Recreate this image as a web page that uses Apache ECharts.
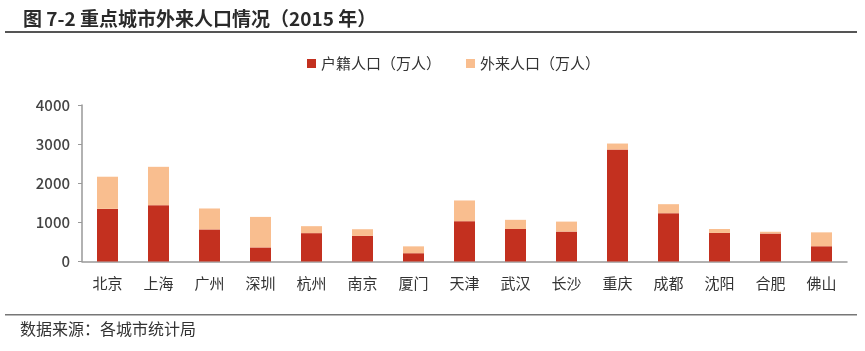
<!DOCTYPE html>
<html><head><meta charset="utf-8">
<script src="https://cdn.jsdelivr.net/npm/echarts@6/dist/echarts.min.js"></script>
<style>html,body{margin:0;padding:0;background:#fff}#c{width:865px;height:351px}</style>
</head><body><div id="c"></div>
<script>
var categories = ['北京','上海','广州','深圳','杭州','南京','厦门','天津','武汉','长沙','重庆','成都','沈阳','合肥','佛山'];
var hukou =   [1345,1440,820,360,725,655,212,1030,830,765,2860,1235,730,715,390];
var migrant = [822,980,535,780,178,170,175,530,235,255,155,230,100,45,355];
var yTicks = [0,1000,2000,3000,4000];

var font = '"Noto Sans CJK SC", "Noto Sans", sans-serif';
var chart = echarts.init(document.getElementById('c'), null, {renderer:'canvas'});
chart.setOption({
  animation:false,
  textStyle:{fontFamily:font},
  title:{
    text:'图 7-2 重点城市外来人口情况（2015 年）',
    left:18, top:4,
    textStyle:{fontFamily:font, fontSize:19, fontWeight:'bold', color:'#2a2a2a'}
  },
  graphic:[
    {type:'rect', shape:{x:5,y:31,width:852,height:2}, style:{fill:'#555'}},
    {type:'rect', shape:{x:5,y:314,width:852,height:1.5}, style:{fill:'#777'}},
    {type:'text', left:20, top:321, style:{text:'数据来源：各城市统计局', font:'16px '+font, fill:'#333'}}
  ],
  legend:{
    top:51, left:302, itemWidth:9, itemHeight:9, itemGap:25, icon:'rect',
    textStyle:{fontFamily:font, fontSize:15, color:'#333'},
    data:['户籍人口（万人）','外来人口（万人）']
  },
  grid:{left:82, right:18, top:105, bottom:89.5},
  xAxis:{
    type:'category', data:categories,
    axisLine:{lineStyle:{color:'#999', width:1.5}},
    axisTick:{lineStyle:{color:'#999'}, length:4},
    axisLabel:{color:'#333', fontSize:15, fontFamily:font, margin:14}
  },
  yAxis:{
    type:'value', min:yTicks[0], max:yTicks[yTicks.length-1], interval:1000,
    axisLine:{show:true, lineStyle:{color:'#999', width:1.5}},
    axisTick:{show:true, lineStyle:{color:'#999'}, length:4},
    splitLine:{show:false},
    axisLabel:{color:'#444', fontSize:15, fontWeight:500, fontFamily:font, margin:12, formatter:function(v){return String(v);}}
  },
  series:[
    {name:'户籍人口（万人）', type:'bar', stack:'a', barWidth:21, data:hukou, itemStyle:{color:'#C3301F'}},
    {name:'外来人口（万人）', type:'bar', stack:'a', barWidth:21, data:migrant, itemStyle:{color:'#F9BE8F'}}
  ]
});
</script></body></html>
